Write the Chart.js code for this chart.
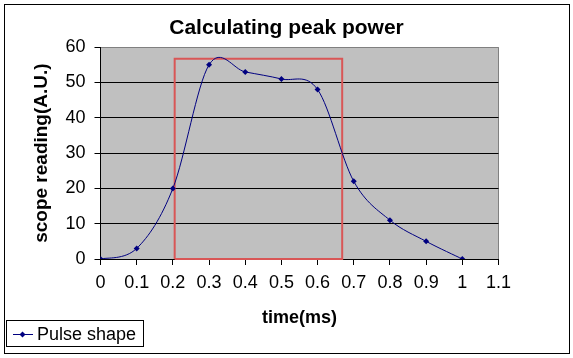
<!DOCTYPE html>
<html><head><meta charset="utf-8">
<script src="https://cdn.jsdelivr.net/npm/chart.js@4.4.1/dist/chart.umd.min.js"></script>
<style>html,body{margin:0;padding:0;background:#fff;} canvas{display:block;}</style>
</head><body>
<canvas id="c" width="573" height="358"></canvas>
<script>
// ---- data ----
const timeMs = [0, 0.1, 0.2, 0.3, 0.4, 0.5, 0.6, 0.7, 0.8, 0.9, 1.0];
const pulseShape = [0, 3, 20, 55, 53, 51, 48, 22, 11, 5, 0];
const peakBoxX = [0.205, 0.668];
const peakBoxY = [0, 56.7];
const xTicks = [0, 0.1, 0.2, 0.3, 0.4, 0.5, 0.6, 0.7, 0.8, 0.9, 1, 1.1];
const xTickLabels = ['0', '0.1', '0.2', '0.3', '0.4', '0.5', '0.6', '0.7', '0.8', '0.9', '1', '1.1'];
const yTicks = [0, 10, 20, 30, 40, 50, 60];
const yTickLabels = ['0', '10', '20', '30', '40', '50', '60'];

const pulsePoints = timeMs.map((x, i) => ({ x: x, y: pulseShape[i] }));
const boxPoints = [
  { x: peakBoxX[0], y: peakBoxY[0] },
  { x: peakBoxX[0], y: peakBoxY[1] },
  { x: peakBoxX[1], y: peakBoxY[1] },
  { x: peakBoxX[1], y: peakBoxY[0] },
  { x: peakBoxX[0], y: peakBoxY[0] }
];

const NAVY = '#000080';

const bgPlugin = {
  id: 'bg',
  beforeDraw(chart) {
    const { ctx, chartArea: a } = chart;
    ctx.save();
    ctx.fillStyle = '#fff';
    ctx.fillRect(0, 0, chart.width, chart.height);
    ctx.fillStyle = '#C0C0C0';
    ctx.fillRect(a.left, a.top, a.right - a.left, a.bottom - a.top);
    ctx.restore();
  }
};

// Excel-like smoothing (Catmull-Rom control points from the library's own point positions)
const smoothPlugin = {
  id: 'smooth',
  beforeDatasetDraw(chart, args) {
    if (args.index !== 0) return;
    const meta = args.meta;
    const pts = meta.data;
    const n = pts.length;
    for (let i = 0; i < n; i++) {
      const p = pts[i];
      const prev = pts[Math.max(i - 1, 0)];
      const next = pts[Math.min(i + 1, n - 1)];
      const tx = (next.x - prev.x) / 6, ty = (next.y - prev.y) / 6;
      p.cp1x = p.x - tx; p.cp1y = p.y - ty;
      p.cp2x = p.x + tx; p.cp2y = p.y + ty;
    }
    meta.dataset._pointsUpdated = true;
    meta.dataset._path = undefined;
  }
};

const framePlugin = {
  id: 'frame',
  afterDraw(chart) {
    const ctx = chart.ctx;
    ctx.save();
    ctx.strokeStyle = '#000';
    ctx.lineWidth = 1;
    ctx.strokeRect(4.5, 4.5, 565, 349);
    const hb = chart.legend && chart.legend.legendHitBoxes && chart.legend.legendHitBoxes[0];
    if (hb) {
      const top = Math.round(hb.top - 6) + 0.5;
      ctx.strokeRect(6.5, top, 137, 26);
      const cy = Math.round(hb.top + 8) + 0.5;
      ctx.strokeStyle = NAVY;
      ctx.beginPath();
      ctx.moveTo(13, cy); ctx.lineTo(33, cy);
      ctx.stroke();
      ctx.fillStyle = NAVY;
      ctx.beginPath();
      const mx = 22.5, r = 3;
      ctx.moveTo(mx, cy - r); ctx.lineTo(mx + r, cy); ctx.lineTo(mx, cy + r); ctx.lineTo(mx - r, cy);
      ctx.closePath(); ctx.fill();
    }
    ctx.restore();
  }
};

Chart.defaults.font.family = "'Liberation Sans', Arial, sans-serif";
Chart.defaults.color = '#000';

new Chart(document.getElementById('c'), {
  type: 'line',
  data: {
    datasets: [
      {
        label: 'Pulse shape',
        data: pulsePoints,
        xAxisID: 'x', yAxisID: 'y',
        borderColor: NAVY, backgroundColor: NAVY,
        borderWidth: 1,
        pointStyle: 'rectRot', pointRadius: 3, pointBorderWidth: 0,
        pointBackgroundColor: NAVY,
        tension: 0.3, fill: false
      },
      {
        label: 'peak window',
        data: boxPoints,
        xAxisID: 'x', yAxisID: 'y',
        borderColor: '#D95656', backgroundColor: '#D95656',
        borderWidth: 2, pointRadius: 0, tension: 0, fill: false, clip: 4
      }
    ]
  },
  options: {
    responsive: false, animation: false, devicePixelRatio: 1,
    layout: { padding: { left: 0, right: 0, top: 0, bottom: 4 } },
    plugins: {
      title: {
        display: true, text: 'Calculating peak power', color: '#000',
        font: { size: 21, weight: 'bold' }, padding: { top: 16, bottom: 6 }
      },
      legend: {
        display: true, position: 'bottom', align: 'start',
        labels: {
          boxWidth: 26, boxHeight: 0, padding: 2, color: '#000',
          font: { size: 18 },
          generateLabels: (chart) => [{
            text: chart.data.datasets[0].label,
            fillStyle: 'rgba(0,0,0,0)', strokeStyle: 'rgba(0,0,0,0)',
            lineWidth: 0, hidden: false, datasetIndex: 0, fontColor: '#000'
          }]
        }
      },
      tooltip: { enabled: false }
    },
    scales: {
      x: {
        type: 'linear', position: 'bottom', min: 0, max: 1.1,
        afterBuildTicks: (s) => { s.ticks = xTicks.map(v => ({ value: v })); },
        afterFit: (s) => { s.height = 65; },
        ticks: {
          callback: (v, i) => xTickLabels[i], autoSkip: false, maxRotation: 0, minRotation: 0,
          padding: 7, color: '#000',
          font: { family: "'Liberation Sans', Arial, sans-serif", size: 18 }
        },
        grid: {
          color: (c) => (c.index === xTicks.length - 1 ? '#808080' : 'rgba(0,0,0,0)'),
          tickColor: '#000', tickLength: 6, lineWidth: 1
        },
        border: { display: true, color: '#000', width: 1 },
        title: {
          display: true, text: 'time(ms)', color: '#000',
          font: { size: 18, weight: 'bold', lineHeight: 0.6 }, padding: { top: 0, bottom: 0.6 }
        }
      },
      y: {
        type: 'linear', position: 'left', min: 0, max: 60,
        afterBuildTicks: (s) => { s.ticks = yTicks.map(v => ({ value: v })); },
        afterFit: (s) => { s.width = 100.5; },
        ticks: { callback: (v, i) => yTickLabels[i], padding: 9, color: '#000', font: { size: 18 } },
        grid: {
          color: (c) => (c.index === yTicks.length - 1 ? '#808080' : '#000'),
          tickColor: '#000', tickLength: 6, lineWidth: 1
        },
        border: { display: true, color: '#000', width: 1 },
        title: {
          display: true, text: 'scope reading(A.U.)', color: '#000',
          font: { size: 19, weight: 'bold' }, padding: { top: 30.6, bottom: 0 }
        }
      },
      yR: {
        type: 'linear', position: 'right', min: 0, max: 1, display: true,
        afterFit: (s) => { s.width = 74.5; },
        ticks: { display: false }, grid: { display: false }, border: { display: false }
      }
    }
  },
  plugins: [bgPlugin, smoothPlugin, framePlugin]
});
</script>
</body></html>
